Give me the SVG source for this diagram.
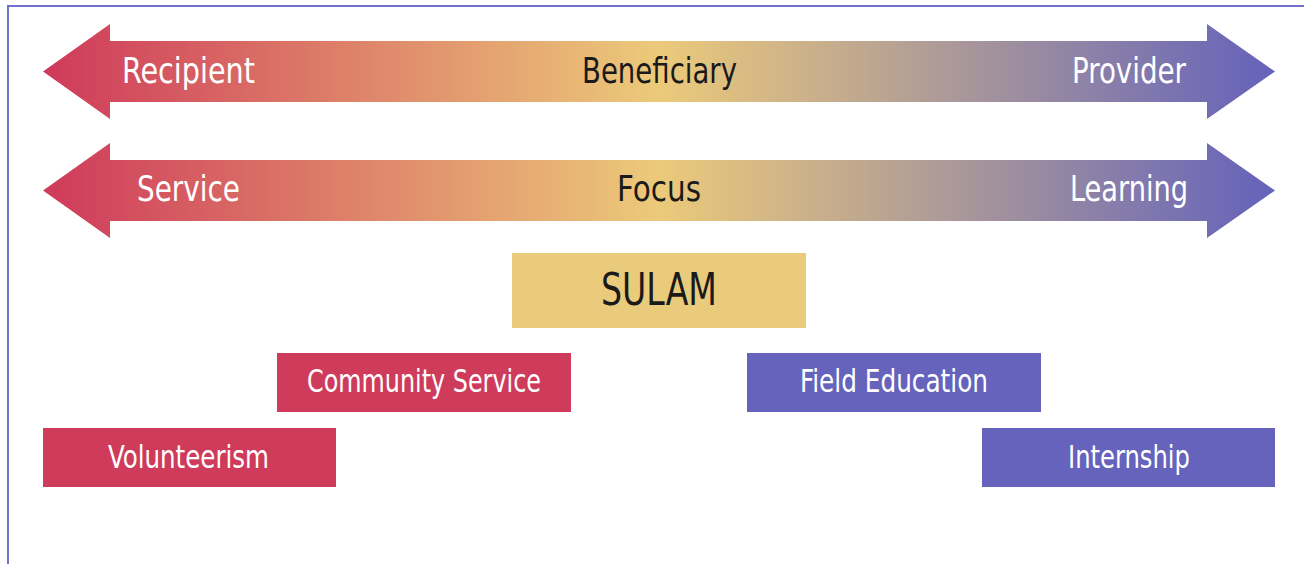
<svg xmlns="http://www.w3.org/2000/svg" width="1304" height="564" viewBox="0 0 1304 564">
<defs>
<linearGradient id="g" gradientUnits="userSpaceOnUse" x1="43" y1="0" x2="1275" y2="0">
<stop offset="0" stop-color="#cf3a5a"/>
<stop offset="0.5" stop-color="#ecca7a"/>
<stop offset="1" stop-color="#6462bb"/>
</linearGradient>
<style>
text{font-family:"Liberation Sans Narrow","DejaVu Sans Condensed","Liberation Sans",sans-serif;text-anchor:middle}
.al{font-size:35px}
.w{fill:#ffffff}
.d{fill:#1a1a1a}
.bx{font-size:32px;fill:#ffffff}
.red{fill:#cf3b5b}
.pur{fill:#6563bb}
</style>
</defs>
<rect x="8" y="6" width="1400" height="600" fill="#ffffff" stroke="#7272c9" stroke-width="2"/>
<g id="arrow-beneficiary">
<path d="M43,71.5 L110,24 L110,41 L1207,41 L1207,24 L1275,71.5 L1207,119 L1207,102 L110,102 L110,119 Z" fill="url(#g)"/>
<text class="al w" x="188.5" y="83" textLength="133" lengthAdjust="spacingAndGlyphs">Recipient</text>
<text class="al d" x="659.5" y="83" textLength="155" lengthAdjust="spacingAndGlyphs">Beneficiary</text>
<text class="al w" x="1129" y="83" textLength="114" lengthAdjust="spacingAndGlyphs">Provider</text>
</g>
<g id="arrow-focus">
<path d="M43,190.5 L110,143 L110,160 L1207,160 L1207,143 L1275,190.5 L1207,238 L1207,221 L110,221 L110,238 Z" fill="url(#g)"/>
<text class="al w" x="188.5" y="201" textLength="103" lengthAdjust="spacingAndGlyphs">Service</text>
<text class="al d" x="659" y="201" textLength="84" lengthAdjust="spacingAndGlyphs">Focus</text>
<text class="al w" x="1129" y="201" textLength="118" lengthAdjust="spacingAndGlyphs">Learning</text>
</g>
<g id="sulam">
<rect x="512" y="253" width="294" height="75" fill="#eacb7c"/>
<text class="d" x="659" y="305" style="font-size:45px" textLength="116" lengthAdjust="spacingAndGlyphs">SULAM</text>
</g>
<g id="community-service">
<rect class="red" x="277" y="353" width="294" height="59"/>
<text class="bx" x="424" y="392" textLength="234" lengthAdjust="spacingAndGlyphs">Community Service</text>
</g>
<g id="volunteerism">
<rect class="red" x="43" y="428" width="293" height="59"/>
<text class="bx" x="188.5" y="468" textLength="161" lengthAdjust="spacingAndGlyphs">Volunteerism</text>
</g>
<g id="field-education">
<rect class="pur" x="747" y="353" width="294" height="59"/>
<text class="bx" x="894" y="392" textLength="188" lengthAdjust="spacingAndGlyphs">Field Education</text>
</g>
<g id="internship">
<rect class="pur" x="982" y="428" width="293" height="59"/>
<text class="bx" x="1129" y="468" textLength="122" lengthAdjust="spacingAndGlyphs">Internship</text>
</g>
<g id="connectors"></g>
</svg>
